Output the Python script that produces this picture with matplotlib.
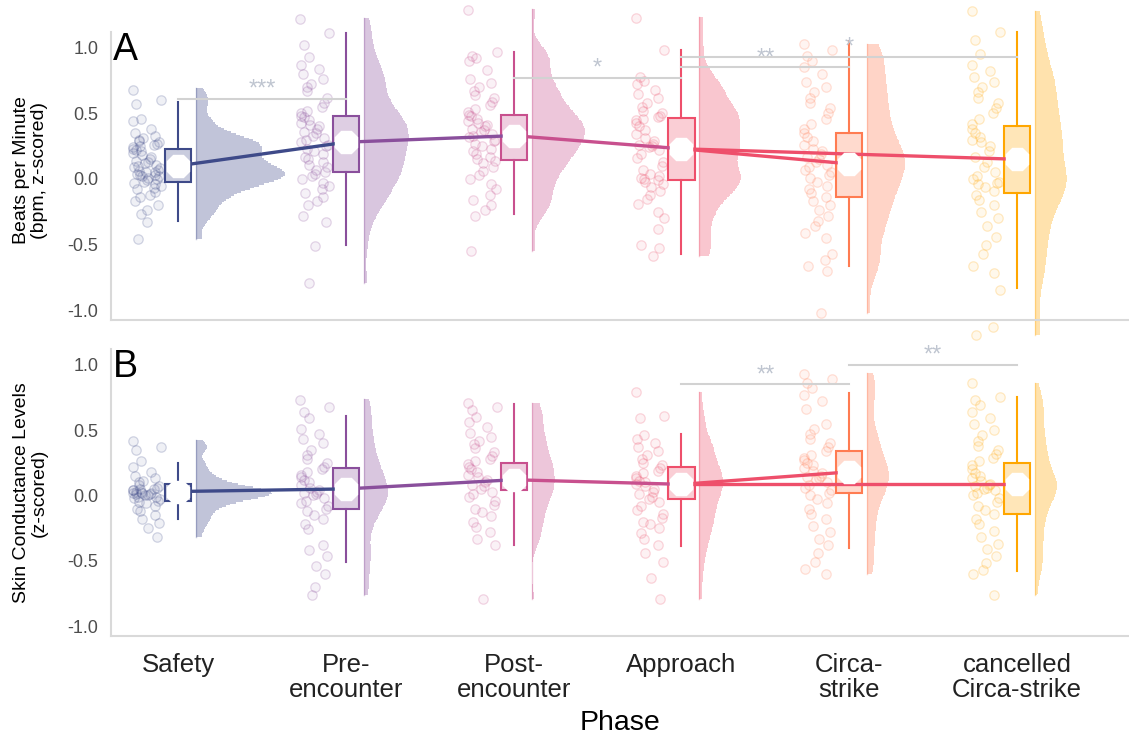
import numpy as np
import matplotlib
matplotlib.use("Agg")
import matplotlib.pyplot as plt
from matplotlib.colors import to_rgba
from matplotlib.patches import Rectangle

plt.rcParams["font.family"] = ["Liberation Sans", "DejaVu Sans"]
plt.rcParams["axes.unicode_minus"] = False

phases = ["Safety", "Pre-\nencounter", "Post-\nencounter", "Approach",
          "Circa-\nstrike", "cancelled\nCirca-strike"]
colors = ["#3E4A89", "#8A4F9C", "#C8508E", "#EE4F6B", "#FF7C52", "#FFA600"]

# ---- Panel A: heart rate (bpm, z-scored), one value per participant ----
hr_safety = [0.68, 0.60, 0.57, 0.46, 0.44, 0.38, 0.35, 0.33, 0.31, 0.30, 0.29, 0.28,
             0.27, 0.26, 0.25, 0.24, 0.23, 0.22, 0.21, 0.20, 0.18, 0.17, 0.15, 0.14,
             0.13, 0.12, 0.11, 0.10, 0.09, 0.08, 0.07, 0.06, 0.05, 0.05, 0.04, 0.03,
             0.03, 0.02, 0.02, 0.01, 0.00, -0.01, -0.02, -0.03, -0.04, -0.05, -0.07,
             -0.08, -0.10, -0.12, -0.14, -0.17, -0.20, -0.24, -0.27, -0.33, -0.46]
hr_pre = [1.22, 1.11, 1.02, 0.93, 0.87, 0.84, 0.80, 0.76, 0.72, 0.70, 0.67, 0.62, 0.58,
          0.55, 0.52, 0.50, 0.48, 0.47, 0.45, 0.43, 0.41, 0.40, 0.38, 0.36, 0.35, 0.33,
          0.31, 0.30, 0.28, 0.26, 0.25, 0.23, 0.21, 0.19, 0.17, 0.15, 0.13, 0.11, 0.09,
          0.07, 0.05, 0.04, 0.02, 0.00, -0.03, -0.05, -0.08, -0.11, -0.14, -0.17, -0.20,
          -0.28, -0.33, -0.51, -0.79]
hr_post = [1.29, 0.97, 0.94, 0.92, 0.90, 0.83, 0.76, 0.73, 0.70, 0.67, 0.64, 0.62, 0.59,
           0.56, 0.53, 0.51, 0.49, 0.48, 0.46, 0.44, 0.43, 0.41, 0.40, 0.38, 0.37, 0.36,
           0.34, 0.33, 0.32, 0.30, 0.29, 0.27, 0.25, 0.23, 0.21, 0.19, 0.17, 0.15, 0.14,
           0.12, 0.09, 0.06, 0.03, 0.00, -0.04, -0.08, -0.12, -0.16, -0.20, -0.24, -0.28,
           -0.55]
hr_approach = [1.23, 0.98, 0.78, 0.75, 0.72, 0.68, 0.65, 0.62, 0.58, 0.55, 0.52, 0.50,
               0.48, 0.47, 0.46, 0.45, 0.43, 0.40, 0.37, 0.34, 0.31, 0.29, 0.27, 0.26,
               0.25, 0.24, 0.22, 0.19, 0.16, 0.13, 0.10, 0.07, 0.04, 0.02, 0.01, 0.00,
               -0.01, -0.02, -0.04, -0.06, -0.09, -0.12, -0.15, -0.19, -0.25, -0.30,
               -0.38, -0.50, -0.53, -0.59]
hr_circa = [1.03, 0.98, 0.94, 0.90, 0.85, 0.80, 0.74, 0.70, 0.66, 0.62, 0.58, 0.54, 0.50,
            0.46, 0.42, 0.38, 0.35, 0.32, 0.29, 0.26, 0.23, 0.21, 0.19, 0.17, 0.15, 0.13,
            0.11, 0.09, 0.07, 0.05, 0.03, 0.01, -0.02, -0.05, -0.08, -0.11, -0.14, -0.17,
            -0.20, -0.24, -0.28, -0.32, -0.36, -0.41, -0.45, -0.57, -0.62, -0.66, -0.70,
            -1.02]
hr_cancelled = [1.28, 1.12, 1.06, 0.95, 0.87, 0.82, 0.78, 0.74, 0.70, 0.66, 0.62, 0.58,
                0.54, 0.50, 0.46, 0.42, 0.38, 0.35, 0.32, 0.30, 0.28, 0.25, 0.21, 0.17,
                0.13, 0.09, 0.05, 0.02, 0.00, -0.02, -0.03, -0.04, -0.06, -0.09, -0.12,
                -0.16, -0.20, -0.25, -0.30, -0.36, -0.44, -0.50, -0.57, -0.66, -0.72,
                -0.85, -1.13, -1.19]

hr_q1 = [-0.02, 0.05, 0.145, -0.01, -0.14, -0.11]
hr_q3 = [0.23, 0.48, 0.49, 0.465, 0.35, 0.40]
hr_whisk_lo = [-0.32, -0.50, -0.27, -0.57, -0.66, -0.83]
hr_whisk_hi = [0.59, 1.11, 0.97, 0.98, 1.05, 1.12]
hr_mean = [0.10, 0.28, 0.33, 0.23, 0.115, 0.15]

# ---- Panel B: skin conductance level (z-scored) ----
scl_safety = [0.42, 0.37, 0.35, 0.26, 0.22, 0.18, 0.15, 0.13, 0.11, 0.10, 0.08, 0.07,
              0.06, 0.05, 0.05, 0.04, 0.04, 0.03, 0.03, 0.02, 0.02, 0.02, 0.01, 0.01,
              0.00, 0.00, -0.01, -0.01, -0.02, -0.03, -0.04, -0.05, -0.06, -0.08, -0.10,
              -0.12, -0.15, -0.18, -0.21, -0.25, -0.32]
scl_pre = [0.73, 0.68, 0.64, 0.59, 0.51, 0.47, 0.43, 0.40, 0.35, 0.31, 0.28, 0.25, 0.22,
           0.20, 0.18, 0.16, 0.14, 0.12, 0.10, 0.08, 0.06, 0.04, 0.03, 0.02, 0.01, 0.00,
           -0.02, -0.04, -0.06, -0.08, -0.10, -0.12, -0.15, -0.18, -0.22, -0.26, -0.38,
           -0.42, -0.46, -0.54, -0.60, -0.70, -0.76]
scl_post = [0.71, 0.68, 0.65, 0.60, 0.56, 0.52, 0.48, 0.45, 0.42, 0.39, 0.36, 0.33, 0.30,
            0.28, 0.26, 0.24, 0.22, 0.20, 0.18, 0.16, 0.14, 0.12, 0.10, 0.08, 0.07, 0.05,
            0.03, 0.01, -0.01, -0.04, -0.07, -0.10, -0.13, -0.16, -0.20, -0.24, -0.28,
            -0.33, -0.38, -0.79]
scl_approach = [0.79, 0.61, 0.59, 0.46, 0.43, 0.40, 0.37, 0.34, 0.31, 0.28, 0.25, 0.23,
                0.21, 0.19, 0.17, 0.15, 0.13, 0.11, 0.10, 0.09, 0.07, 0.05, 0.03, 0.01,
                -0.01, -0.03, -0.05, -0.08, -0.11, -0.14, -0.17, -0.20, -0.22, -0.25,
                -0.29, -0.33, -0.38, -0.44, -0.51, -0.63, -0.79]
scl_circa = [0.93, 0.89, 0.86, 0.82, 0.77, 0.72, 0.66, 0.55, 0.51, 0.47, 0.43, 0.40, 0.37,
             0.34, 0.31, 0.29, 0.27, 0.25, 0.23, 0.21, 0.19, 0.17, 0.15, 0.14, 0.13, 0.12,
             0.10, 0.08, 0.06, 0.04, 0.02, 0.00, -0.03, -0.06, -0.10, -0.14, -0.18, -0.23,
             -0.28, -0.33, -0.38, -0.44, -0.51, -0.56, -0.60]
scl_cancelled = [0.86, 0.75, 0.73, 0.69, 0.64, 0.59, 0.55, 0.50, 0.46, 0.42, 0.38, 0.35,
                 0.32, 0.29, 0.26, 0.23, 0.20, 0.17, 0.15, 0.13, 0.11, 0.09, 0.08, 0.07,
                 0.06, 0.05, 0.04, 0.02, 0.00, -0.02, -0.05, -0.08, -0.11, -0.14, -0.18,
                 -0.22, -0.27, -0.32, -0.37, -0.41, -0.46, -0.52, -0.57, -0.60, -0.76]

scl_q1 = [-0.04, -0.10, 0.04, -0.03, 0.02, -0.14]
scl_q3 = [0.085, 0.21, 0.245, 0.22, 0.34, 0.245]
scl_whisk_lo = [-0.18, -0.51, -0.38, -0.39, -0.40, -0.58]
scl_whisk_hi = [0.245, 0.61, 0.70, 0.47, 0.78, 0.75]
scl_mean = [0.03, 0.05, 0.12, 0.085, 0.18, 0.085]

# mean-trajectory links between phases (from, to)
mean_links = [(0, 1), (1, 2), (2, 3), (3, 4), (3, 5)]

# significance brackets: (phase a, phase b, label, height)
hr_sig = [(0, 1, "***", 0.61), (2, 3, "*", 0.77), (3, 4, "**", 0.85), (3, 5, "*", 0.93)]
scl_sig = [(3, 4, "**", 0.85), (4, 5, "**", 1.00)]

hr_samples = [hr_safety, hr_pre, hr_post, hr_approach, hr_circa, hr_cancelled]
scl_samples = [scl_safety, scl_pre, scl_post, scl_approach, scl_circa, scl_cancelled]

# geometry of one raincloud (in category units)
CLOUD_OFF, CLOUD_HALF = -0.185, 0.088
BOX_HALF = 0.078
VIOLIN_OFF = 0.107
YLIM = (-1.075, 1.12)


def kde(vals, grid, bw):
    d = (grid[:, None] - vals[None, :]) / bw
    return np.exp(-0.5 * d ** 2).sum(1) / (len(vals) * bw * np.sqrt(2 * np.pi))


def spread(n):
    """Deterministic, well-mixed horizontal offsets in [-1, 1] for n points."""
    k = np.arange(1, n + 1)
    return (np.modf(np.abs(np.sin(k * 12.9898 + 4.1414)) * 43758.5453)[0]) * 2 - 1


def raincloud_panel(ax, samples, q1, q3, lo, hi, means, sig, max_width, letter):
    # half violins (density estimate per phase, common scale in the panel)
    curves = []
    for vals in samples:
        v = np.asarray(vals, float)
        grid = np.arange(v.min(), v.max() + 0.012, 0.012)
        bw = 0.25 * v.std()
        curves.append((grid, kde(v, grid, bw)))
    scale = max_width / max(c[1].max() for c in curves)

    for i, (vals, (grid, dens)) in enumerate(zip(samples, curves)):
        col = colors[i]
        v = np.asarray(vals, float)
        x0 = i + VIOLIN_OFF
        ax.fill_betweenx(grid, x0, x0 + dens * scale, step="mid",
                         facecolor=to_rgba(col, 0.32), lw=0, zorder=1, clip_on=False)
        ax.plot([x0, x0], [grid[0], grid[-1]], color=to_rgba(col, 0.32), lw=1,
                zorder=1, clip_on=False)

        # jittered participant points
        jit = spread(len(v))
        ax.scatter(i + CLOUD_OFF + jit * CLOUD_HALF, v, s=46,
                   facecolor=to_rgba(col, 0.08), edgecolor=to_rgba(col, 0.22),
                   lw=0.9, zorder=2, clip_on=False)

        # box and whiskers
        ax.add_patch(Rectangle((i - BOX_HALF, q1[i]), 2 * BOX_HALF, q3[i] - q1[i],
                               facecolor=to_rgba(col, 0.28), edgecolor=col, lw=1.5,
                               zorder=3, clip_on=False))
        ax.plot([i, i], [q3[i], hi[i]], color=col, lw=1.5, zorder=3, clip_on=False)
        ax.plot([i, i], [lo[i], q1[i]], color=col, lw=1.5, zorder=3, clip_on=False)

    # mean trajectory
    for a, b in mean_links:
        ax.plot([a, b], [means[a], means[b]], color=colors[a], lw=2.4, zorder=5,
                solid_capstyle="butt", clip_on=False)
    ax.plot(range(len(means)), means, ls="none", marker="8", ms=17, mfc="white",
            mec="white", zorder=6, clip_on=False)

    # significance brackets
    for a, b, label, h in sig:
        ax.plot([a, b], [h, h], color="#d2d2d2", lw=1.5, zorder=4, clip_on=False)
        ax.text((a + b) / 2, h + 0.07, label, ha="center", va="center",
                color="#bfc5d0", fontsize=17, zorder=4)

    ax.text(-0.39, 0.98, letter, ha="left", va="center", fontsize=27, color="black")

    ax.set_xlim(-0.4, 5.667)
    ax.set_ylim(*YLIM)
    ax.set_yticks([-1.0, -0.5, 0.0, 0.5, 1.0])
    ax.set_yticklabels(["-1.0", "-0.5", "0.0", "0.5", "1.0"])
    ax.set_xticks(range(len(phases)))
    for s in ("top", "right"):
        ax.spines[s].set_visible(False)
    for s in ("left", "bottom"):
        ax.spines[s].set_color("#d9d9d9")
        ax.spines[s].set_linewidth(1.5)
    ax.tick_params(length=0, labelsize=13, labelcolor="#4d4d4d", pad=9)


fig = plt.figure(figsize=(11.29, 7.37), dpi=100)
axA = fig.add_axes([0.0983, 0.5658, 0.9017, 0.3908])
axB = fig.add_axes([0.0983, 0.1370, 0.9017, 0.3895])

raincloud_panel(axA, hr_samples, hr_q1, hr_q3, hr_whisk_lo, hr_whisk_hi, hr_mean,
                hr_sig, 0.53, "A")
raincloud_panel(axB, scl_samples, scl_q1, scl_q3, scl_whisk_lo, scl_whisk_hi, scl_mean,
                scl_sig, 0.45, "B")

axA.set_xticklabels([])
axB.set_xticklabels(phases, fontsize=18.5, color="#222222", linespacing=1.05)
axB.tick_params(axis="x", pad=12)

axA.set_ylabel("Beats per Minute\n(bpm, z-scored)", fontsize=14, linespacing=1.05)
axB.set_ylabel("Skin Conductance Levels\n(z-scored)", fontsize=14, linespacing=1.05)
axA.yaxis.set_label_coords(-0.062, 0.52)
axB.yaxis.set_label_coords(-0.062, 0.5)
axB.set_xlabel("Phase", fontsize=20.5, labelpad=6)

fig.savefig("out.png", dpi=100, facecolor="white")
